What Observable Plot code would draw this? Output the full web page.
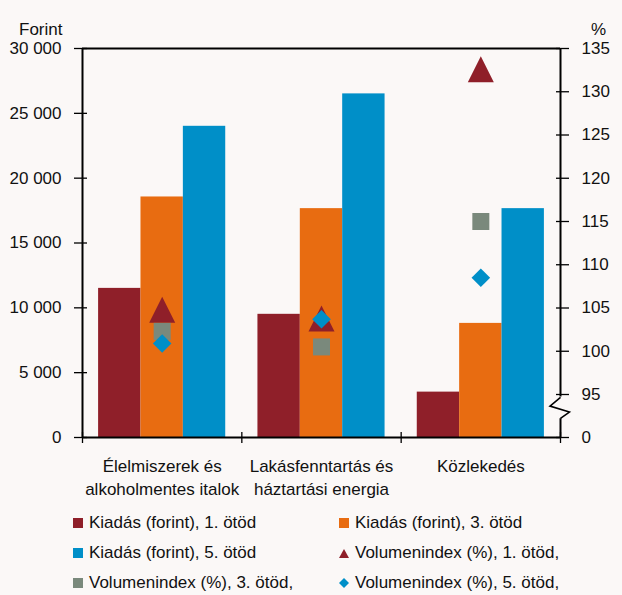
<!DOCTYPE html>
<html>
<head>
<meta charset="utf-8">
<script src="https://cdn.jsdelivr.net/npm/d3@7"></script>
<script src="https://cdn.jsdelivr.net/npm/@observablehq/plot@0.6"></script>
<style>
  html, body { margin: 0; padding: 0; background: #fbf8f7; }
  body { width: 622px; height: 595px; overflow: hidden; font-family: "Liberation Sans", Arial, sans-serif; color: #111; }
  #chart svg { display: block; }
  .legend { display: grid; grid-template-columns: 266px auto; padding-left: 73px; font-size: 17px; }
  .legend .item { height: 30px; line-height: 30px; display: flex; align-items: center; white-space: nowrap; }
  .legend svg { margin-right: 6px; flex: none; }
</style>
</head>
<body>
<div id="chart"></div>
<div class="legend" id="legend"></div>
<script>
// ---- data ----
const categories = ["Élelmiszerek és alkoholmentes italok", "Lakásfenntartás és háztartási energia", "Közlekedés"];
const categoryLines = ["Élelmiszerek és\nalkoholmentes italok", "Lakásfenntartás és\nháztartási energia", "Közlekedés"];
const quintiles = ["1. ötöd", "3. ötöd", "5. ötöd"];
const spend1 = [11500, 9500, 3500];
const spend3 = [18550, 17650, 8800];
const spend5 = [24000, 26500, 17650];
const vol1 = [104.8, 103.8, 132.6];
const vol3 = [102.3, 100.5, 115.0];
const vol5 = [100.9, 103.7, 108.5];
const leftTicks = [0, 5000, 10000, 15000, 20000, 25000, 30000];
const rightTicks = [0, 95, 100, 105, 110, 115, 120, 125, 130, 135];
const legendLabels = ["Kiadás (forint), 1. ötöd", "Kiadás (forint), 3. ötöd", "Kiadás (forint), 5. ötöd",
  "Volumenindex (%), 1. ötöd,", "Volumenindex (%), 3. ötöd,", "Volumenindex (%), 5. ötöd,"];

// ---- styles ----
const C_MAROON = "#8f1f29", C_ORANGE = "#e86c11", C_BLUE = "#008fc8", C_GRAY = "#7a897c";
const FONT = "Liberation Sans, Arial, sans-serif";

// right (%) axis shares the left scale: 95 sits at a break, 135 at the top
const RIGHT_BASE = 95, RIGHT_TOP = 135, LEFT_AT_BASE = 3316, LEFT_MAX = 30000;
const k = (LEFT_MAX - LEFT_AT_BASE) / (RIGHT_TOP - RIGHT_BASE);
const toLeft = v => v === 0 ? 0 : LEFT_AT_BASE + (v - RIGHT_BASE) * k;
const fromLeft = L => L === 0 ? 0 : Math.round(RIGHT_BASE + (L - LEFT_AT_BASE) / k);

const fmt = v => d3.format(",")(v).replace(/,/g, " ");

// inner band of bars within each category unit
const inner = d3.scaleBand().domain(quintiles).range([0, 1]).paddingInner(0).paddingOuter(0.38);
const barData = (vals, q) => categories.map((c, i) => ({
  x1: i + inner(q), x2: i + inner(q) + inner.bandwidth(), y: vals[i]
}));
const markData = vals => categories.map((c, i) => ({x: i + 0.5, y: toLeft(vals[i])}));

// custom symbols (size = pi r^2)
const rOf = size => Math.sqrt(size / Math.PI);
const triSym = {draw(ctx, size) { const r = rOf(size); ctx.moveTo(0, -r); ctx.lineTo(r, r); ctx.lineTo(-r, r); ctx.closePath(); }};
const sqSym = {draw(ctx, size) { const r = rOf(size); ctx.rect(-r, -r, 2 * r, 2 * r); }};
const diaSym = {draw(ctx, size) { const r = rOf(size); ctx.moveTo(0, -r); ctx.lineTo(r, 0); ctx.lineTo(0, r); ctx.lineTo(-r, 0); ctx.closePath(); }};
const zigSym = {draw(ctx, size) { const r = rOf(size); ctx.moveTo(0, -r); ctx.lineTo(-r, -0.17 * r); ctx.lineTo(0.85 * r, 0.4 * r); ctx.lineTo(0, r); }};

const chart = Plot.plot({
  width: 622, height: 508,
  marginLeft: 82, marginRight: 62, marginTop: 48, marginBottom: 71,
  style: {background: "transparent", fontFamily: FONT, fontSize: "17px", color: "#111"},
  x: {domain: [0, 3], axis: null},
  y: {domain: [0, LEFT_MAX], axis: null},
  marks: [
    Plot.rectY(barData(spend1, quintiles[0]), {x1: "x1", x2: "x2", y: "y", fill: C_MAROON}),
    Plot.rectY(barData(spend3, quintiles[1]), {x1: "x1", x2: "x2", y: "y", fill: C_ORANGE}),
    Plot.rectY(barData(spend5, quintiles[2]), {x1: "x1", x2: "x2", y: "y", fill: C_BLUE}),
    Plot.dot(markData(vol1), {x: "x", y: "y", symbol: triSym, r: 13, fill: C_MAROON}),
    Plot.dot(markData(vol3), {x: "x", y: "y", symbol: sqSym, r: 8.5, fill: C_GRAY}),
    Plot.dot(markData(vol5), {x: "x", y: "y", symbol: diaSym, r: 9.3, fill: C_BLUE}),
    // frame
    Plot.ruleY([0], {stroke: "#000", strokeWidth: 2}),
    Plot.ruleY([LEFT_MAX], {stroke: "#000", strokeWidth: 2}),
    Plot.ruleX([0], {stroke: "#000", strokeWidth: 2}),
    Plot.ruleX([{y1: LEFT_MAX, y2: toLeft(94.7)}, {y1: toLeft(92.2), y2: 0}], {x: 3, y1: "y1", y2: "y2", stroke: "#000", strokeWidth: 2}),
    Plot.dot([93.45], {x: 3, y: toLeft, symbol: zigSym, r: 10.5, stroke: "#000", fill: "none", strokeWidth: 1.6}),
    // axes
    Plot.axisY({anchor: "left", ticks: leftTicks, tickFormat: fmt, tickSize: 13, dx: 5, tickPadding: 13,
      fontSize: 17, stroke: "#000", strokeWidth: 1.3, label: null}),
    Plot.axisY({anchor: "right", ticks: rightTicks.map(toLeft), tickFormat: L => String(fromLeft(L)), tickSize: 13, dx: -5, tickPadding: 13,
      fontSize: 17, stroke: "#000", strokeWidth: 1.3, label: null}),
    Plot.axisX({anchor: "bottom", ticks: [0, 1, 2, 3], tickSize: 11, dy: -5, tickFormat: () => "",
      stroke: "#000", strokeWidth: 1.3, label: null}),
    Plot.axisX({anchor: "bottom", ticks: [0.5, 1.5, 2.5], tickSize: 0, tickPadding: 18,
      tickFormat: x => categoryLines[Math.floor(x)], fontSize: 17, lineHeight: 23 / 17, label: null}),
    Plot.text(["Forint"], {frameAnchor: "top-left", dx: -20, dy: -26, textAnchor: "end", fontSize: 17}),
    Plot.text(["%"], {frameAnchor: "top-right", dx: 38, dy: -26, textAnchor: "middle", fontSize: 17})
  ]
});
document.getElementById("chart").append(chart);

// legend
const swatches = [
  `<rect x="0" y="0" width="10" height="10" fill="${C_MAROON}"/>`,
  `<rect x="0" y="0" width="10" height="10" fill="${C_ORANGE}"/>`,
  `<rect x="0" y="0" width="10" height="10" fill="${C_BLUE}"/>`,
  `<polygon points="5,1 10,10 0,10" fill="${C_MAROON}"/>`,
  `<rect x="0" y="0" width="10" height="10" fill="${C_GRAY}"/>`,
  `<polygon points="5,0 10,5 5,10 0,5" fill="${C_BLUE}"/>`
];
const legend = document.getElementById("legend");
legendLabels.forEach((label, i) => {
  const div = document.createElement("div");
  div.className = "item";
  div.innerHTML = `<svg width="10" height="10" viewBox="0 0 10 10">${swatches[i]}</svg><span>${label}</span>`;
  legend.append(div);
});
</script>
</body>
</html>
